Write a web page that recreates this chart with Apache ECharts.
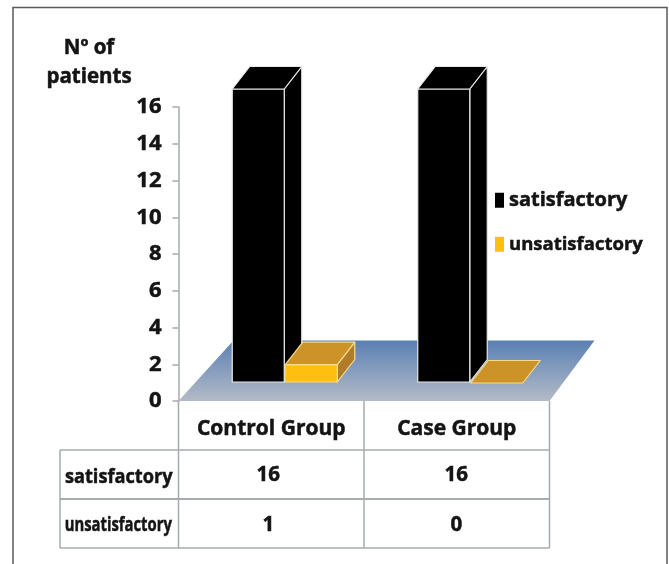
<!DOCTYPE html>
<html><head><meta charset="utf-8">
<style>html,body{margin:0;padding:0;background:#fff}#c{width:669px;height:564px}</style>
<script src="https://cdn.jsdelivr.net/npm/echarts@6/dist/echarts.min.js"></script>
</head><body><div id="c"></div>
<script>
var categories = ['Control Group', 'Case Group'];
var satisfactory = [16, 16];
var unsatisfactory = [1, 0];
var seriesNames = ['satisfactory', 'unsatisfactory'];
var axisTitle = 'Nº of\npatients';

var FONT = '"Open Sans"';
var INK = '#141414';
var RULE = '#a6abad';
var HEAVY = 0.5;
var DX = 17.5, DY = -22.5, BASE = -19, BARW = 52;

function poly(pts, fill, stroke, lw) {
  return {type: 'polygon', shape: {points: pts}, style: {fill: fill, stroke: stroke, lineWidth: lw, lineJoin: 'round'}};
}
function prism(offset, front, side, top, stroke) {
  return function (params, api) {
    var cat = api.value(0), val = api.value(1);
    var c0 = api.coord([cat, 0]), c1 = api.coord([cat, val]);
    var x0 = c0[0] + offset, x1 = x0 + BARW, yb = c0[1] + BASE, yt = c1[1] + BASE + 1;
    var kids = [];
    if (val > 0) {
      kids.push(poly([[x1, yt], [x1 + DX, yt + DY], [x1 + DX, yb + DY], [x1, yb]], side, stroke, 1.2));
      kids.push(poly([[x0, yt], [x1, yt], [x1, yb], [x0, yb]], front, stroke, 1.2));
    }
    kids.push(poly([[x0, yt], [x1, yt], [x1 + DX, yt + DY], [x0 + DX, yt + DY]], top, stroke, 1.2));
    return {type: 'group', children: kids};
  };
}
function floor(params) {
  var cs = params.coordSys, yb = cs.y + cs.height, yt = yb - 60.5;
  return poly([[cs.x, yb], [cs.x + cs.width, yb], [cs.x + cs.width + 45, yt], [cs.x + 55, yt]],
    new echarts.graphic.LinearGradient(0, 0, 0, 1, [{offset: 0, color: '#5b80b4'}, {offset: 1, color: '#b4bbc6'}]),
    'none', 0);
}

// table
var TL = 60, TA = 178.5, TM = 364, TR = 549.5, Y0 = 401, Y1 = 450, Y2 = 499, Y3 = 548;
function line(x1, y1, x2, y2, w) {
  return {type: 'line', shape: {x1: x1, y1: y1, x2: x2, y2: y2}, style: {stroke: RULE, lineWidth: w || 1.5}, silent: true};
}
function txt(s, x, y, size, sx) {
  return {type: 'text', x: x, y: y, scaleX: sx || 1, style: {text: s, x: 0, y: 0, align: 'center', verticalAlign: 'middle', font: '700 ' + size + 'px ' + FONT, fill: INK, stroke: INK, lineWidth: HEAVY}};
}
var midC = (TA + TM) / 2, midD = (TM + TR) / 2, midL = (TL + TA) / 2;
var graphics = [
  {type: 'rect', shape: {x: 13, y: 7.5, width: 654, height: 600}, style: {fill: 'none', stroke: '#5a5a5a', lineWidth: 1.5}, silent: true},
  line(TL, Y1, TR, Y1), line(TL, Y2, TR, Y2, 2), line(TL, Y3, TR, Y3),
  line(TL, Y1, TL, Y3), line(TA, Y0, TA, Y3), line(TM, Y0, TM, Y3), line(TR, Y0, TR, Y3),
  txt(seriesNames[0], midL - 0.5, 477, 20, 0.91),
  txt(seriesNames[1], midL - 1, 526, 19, 0.78),
  txt(String(satisfactory[0]), midC - 3, 475.5, 20.5),
  txt(String(satisfactory[1]), midD - 0.5, 475.5, 20.5),
  txt(String(unsatisfactory[0]), midC - 3, 525.5, 20.5),
  txt(String(unsatisfactory[1]), midD - 0.5, 525.5, 20.5)
];

var chart = echarts.init(document.getElementById('c'), null, {renderer: 'canvas'});
chart.setOption({
  animation: false,
  backgroundColor: '#fff',
  title: {
    text: axisTitle, left: 84, top: 29, textAlign: 'center',
    textStyle: {fontFamily: FONT, fontWeight: 700, fontSize: 20.5, lineHeight: 28.5, color: INK, textBorderColor: INK, textBorderWidth: HEAVY}
  },
  legend: {
    data: seriesNames, orient: 'vertical', left: 490, top: 185, itemWidth: 9, itemHeight: 15, itemGap: 24,
    icon: 'rect', selectedMode: false,
    formatter: function (n) { return n === seriesNames[0] ? '{a|' + n + '}' : '{b|' + n + '}'; },
    textStyle: {rich: {
      a: {fontFamily: FONT, fontWeight: 700, fontSize: 20, color: INK, textBorderColor: INK, textBorderWidth: HEAVY},
      b: {fontFamily: FONT, fontWeight: 700, fontSize: 18.5, color: INK, textBorderColor: INK, textBorderWidth: HEAVY}
    }}
  },
  grid: {left: 178.5, top: 107, width: 371, height: 294},
  xAxis: {
    type: 'category', data: categories,
    axisLine: {show: false}, axisTick: {show: false},
    axisLabel: {margin: 18, interval: 0, fontFamily: FONT, fontWeight: 700, fontSize: 21, color: INK, textBorderColor: INK, textBorderWidth: HEAVY}
  },
  yAxis: {
    type: 'value', min: 0, max: 16, interval: 2,
    axisLine: {show: true, lineStyle: {color: RULE, width: 1.5}},
    axisTick: {show: true, length: 6, lineStyle: {color: RULE, width: 1.5}},
    axisLabel: {margin: 17, fontFamily: FONT, fontWeight: 700, fontSize: 22, color: INK, textBorderColor: INK, textBorderWidth: HEAVY},
    splitLine: {show: false}
  },
  graphic: graphics,
  series: [
    {name: 'floor', type: 'custom', z: 1, data: [[0, 0]], renderItem: floor, silent: true},
    {name: seriesNames[0], type: 'custom', z: 3, itemStyle: {color: '#000'},
      data: categories.map(function (c, i) { return [i, satisfactory[i]]; }),
      renderItem: prism(-39, '#000', '#000', '#000', '#e8e8e8')},
    {name: seriesNames[1], type: 'custom', z: 4, itemStyle: {color: '#fdc010'},
      data: categories.map(function (c, i) { return [i, unsatisfactory[i]]; }),
      renderItem: prism(14, '#fdc010', '#b07c2a', '#cb9328', '#f5dc8a')}
  ]
});
</script></body></html>
